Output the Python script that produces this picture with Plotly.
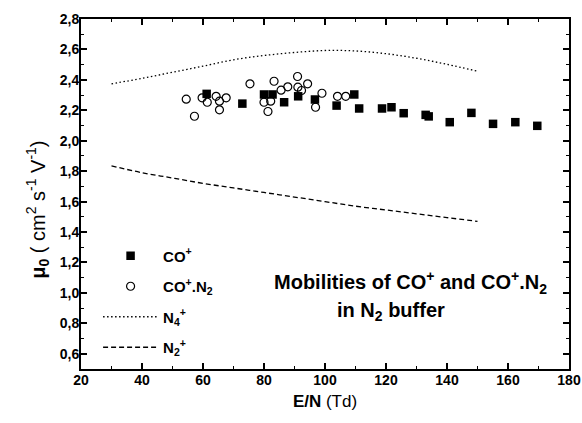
import plotly.graph_objects as go

# CO+ (filled squares)
co_x = [61.2, 72.9, 80.0, 82.8, 86.6, 91.2, 96.7, 103.8, 109.6, 111.2, 118.7, 121.8,
        125.8, 133.0, 134.0, 140.9, 148.0, 155.1, 162.4, 169.6]
co_y = [2.308, 2.244, 2.304, 2.304, 2.253, 2.292, 2.271, 2.231, 2.304, 2.212, 2.212, 2.220,
        2.181, 2.170, 2.160, 2.122, 2.183, 2.111, 2.122, 2.098]

# CO+.N2 (open circles)
con2_x = [54.5, 57.2, 59.7, 61.4, 64.3, 65.4, 65.4, 67.6, 75.4, 80.0, 81.3, 82.2, 83.3,
          85.6, 87.8, 91.0, 91.1, 92.3, 94.3, 96.9, 99.0, 104.1, 106.8]
con2_y = [2.273, 2.161, 2.282, 2.253, 2.292, 2.260, 2.203, 2.282, 2.374, 2.253, 2.192, 2.260, 2.391,
          2.332, 2.354, 2.422, 2.352, 2.330, 2.374, 2.220, 2.312, 2.292, 2.292]

# N4+ (dotted curve)
n4_x = [30, 40, 50, 60, 70, 80, 90, 100, 110, 120, 130, 140, 150]
n4_y = [2.374, 2.410, 2.450, 2.490, 2.532, 2.560, 2.580, 2.593, 2.590, 2.572, 2.542, 2.502, 2.457]

# N2+ (dashed curve)
n2_x = [30, 40, 50, 60, 70, 80, 90, 100, 110, 120, 130, 140, 150]
n2_y = [1.835, 1.790, 1.755, 1.720, 1.690, 1.660, 1.630, 1.600, 1.570, 1.545, 1.520, 1.495, 1.470]

FONT = "Arial, 'Liberation Sans', sans-serif"

fig = go.Figure()
fig.add_trace(go.Scatter(x=co_x, y=co_y, mode="markers", name="CO<sup>+</sup>",
                         legendgroup="a",
                         marker=dict(symbol="square", size=8.5, color="black",
                                     line=dict(width=0))))
fig.add_trace(go.Scatter(x=con2_x, y=con2_y, mode="markers", name="CO<sup>+</sup>.N<sub>2</sub>",
                         legendgroup="b",
                         marker=dict(symbol="circle-open", size=8, color="black",
                                     line=dict(width=1.2))))
fig.add_trace(go.Scatter(x=n4_x, y=n4_y, mode="lines", name="N<sub>4</sub><sup>+</sup>",
                         legendgroup="c", line_shape="spline",
                         line=dict(color="black", width=1.3, dash="1.5px,2.5px")))
fig.add_trace(go.Scatter(x=n2_x, y=n2_y, mode="lines", name="N<sub>2</sub><sup>+</sup>",
                         legendgroup="d", line_shape="spline",
                         line=dict(color="black", width=1.3, dash="5px,3px")))

axis_common = dict(showline=True, linecolor="black", linewidth=2, mirror="ticks",
                   ticks="inside", ticklen=6, tickwidth=1.5, tickcolor="black",
                   showgrid=False, zeroline=False, automargin=False,
                   ticklabelstandoff=-3,
                   tickfont=dict(family=FONT, size=14, color="black", weight="bold"))

fig.update_xaxes(range=[20, 180], dtick=20, tick0=20,
                 minor=dict(ticks="inside", ticklen=3, tickwidth=1.2, dtick=10, tickcolor="black"),
                 title=dict(text="<b>E/N</b> (Td)", font=dict(family=FONT, size=17, color="black"),
                            standoff=8),
                 **axis_common)
fig.update_yaxes(range=[0.5, 2.8], dtick=0.2, tick0=0.6, tickformat=".1f",
                 minor=dict(ticks="inside", ticklen=3, tickwidth=1.2, dtick=0.1, tickcolor="black"),
                 **axis_common)

# y-axis title placed precisely
fig.add_annotation(x=-0.088, y=0.455, xref="paper", yref="paper", showarrow=False,
                   textangle=-90, xanchor="center", yanchor="middle",
                   text="<b>μ<sub>0</sub></b> ( cm<sup>2</sup> s<sup>-1</sup> V<sup>-1</sup>)",
                   font=dict(family=FONT, size=20, color="black"))

fig.add_annotation(x=128.1, y=1.07, xref="x", yref="y", showarrow=False,
                   text="<b>Mobilities of CO<sup>+</sup> and CO<sup>+</sup>.N<sub>2</sub></b>",
                   font=dict(family=FONT, size=20, color="black"))
fig.add_annotation(x=121.6, y=0.875, xref="x", yref="y", showarrow=False,
                   text="<b>in N<sub>2</sub> buffer</b>",
                   font=dict(family=FONT, size=20, color="black"))

fig.update_layout(
    width=582, height=423,
    margin=dict(l=81, r=13, t=19, b=54),
    paper_bgcolor="white", plot_bgcolor="white",
    separators=",.",
    font=dict(family=FONT, color="black"),
    legend=dict(x=0.035, y=0.37, xanchor="left", yanchor="top",
                bgcolor="rgba(0,0,0,0)", tracegroupgap=8, itemwidth=55,
                font=dict(family=FONT, size=15, color="black", weight="bold")),
)

fig.write_html("out.html")
